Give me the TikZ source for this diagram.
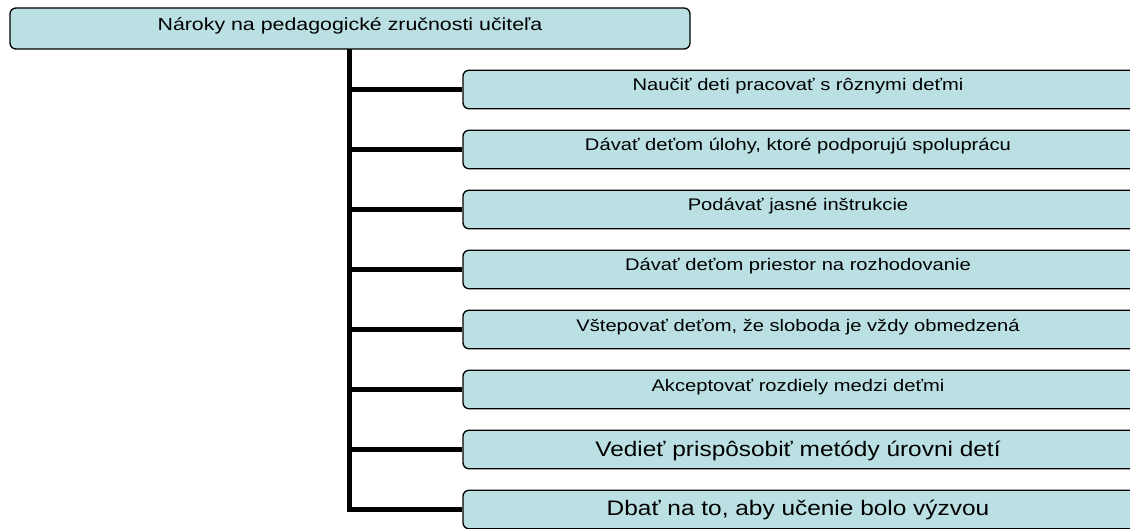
\documentclass[tikz,border=0pt]{standalone}
\usepackage{fontspec}
\setmainfont{Liberation Sans}
\usepackage{graphicx}
\definecolor{boxfill}{RGB}{187,224,227}
\tikzset{
  box/.style={draw=black, line width=1.3pt, fill=boxfill, rounded corners=6pt, inner sep=0pt},
  topbox/.style={box, minimum width=680pt, minimum height=41pt},
  childbox/.style={box, minimum width=682pt, minimum height=38.5pt},
  conn/.style={line width=5.5pt, line join=miter},
  lbl/.style={inner sep=0pt, anchor=base}
}
\newcommand{\wtxt}[3]{\scalebox{#1}[1]{\fontsize{#2}{#2}\selectfont #3}}
\begin{document}
\begin{tikzpicture}[x=1pt,y=-1pt]
\useasboundingbox (0,0) rectangle (1130,529);
\clip (0,0) rectangle (1130,529);
\node[topbox] (top) at (350,28.5) {};
\node[lbl] (ttop) at (350,31) {\wtxt{1.22}{17.5}{Nároky na pedagogické zručnosti učiteľa}};
\coordinate (tr) at (349.5,49);
\foreach \i/\t/\x/\s/\b in {
  0/{Naučiť deti pracovať s rôznymi deťmi}/1.2/16.8/91,
  1/{Dávať deťom úlohy, ktoré podporujú spoluprácu}/1.2/16.8/151,
  2/{Podávať jasné inštrukcie}/1.2/16.8/211,
  3/{Dávať deťom priestor na rozhodovanie}/1.2/16.8/271,
  4/{Vštepovať deťom, že sloboda je vždy obmedzená}/1.2/16.8/331,
  5/{Akceptovať rozdiely medzi deťmi}/1.2/16.8/391,
  6/{Vedieť prispôsobiť metódy úrovni detí}/1.163/21/456.5,
  7/{Dbať na to, aby učenie bolo výzvou}/1.163/21/515.5}{
  \node[childbox] (c\i) at (804,{89.5+60*\i}) {};
  \node[lbl] (t\i) at (798,\b) {\wtxt{\x}{\s}{\t}};
}
\draw[conn] (tr) |- (c7.west);
\foreach \i in {0,...,6}{
  \draw[conn] (tr |- c\i.west) -- (c\i.west);
}
\end{tikzpicture}
\end{document}
